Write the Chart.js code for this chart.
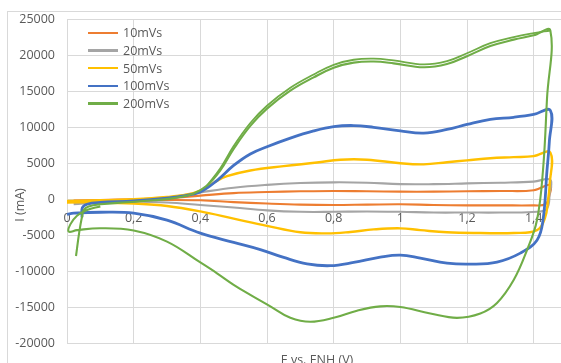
<!DOCTYPE html>
<html>
<head>
<meta charset="utf-8">
<script src="https://cdn.jsdelivr.net/npm/chart.js@4.4.1/dist/chart.umd.min.js"></script>
<style>
  html, body { margin: 0; padding: 0; background: #fff; overflow: hidden; }
  #wrap   { position: relative; width: 561px; height: 363px; }
  #frame  { position: absolute; left: 7px; top: 11px; width: 620px; height: 420px; border: 1px solid #d9d9d9; }
  #cv     { position: absolute; left: 0; top: 0; }
  #legend { position: absolute; left: 88px; top: 24px; font: 12.5px "Open Sans", sans-serif; color: #595959; }
  .leg-item { height: 17.7px; display: flex; align-items: center; }
  .leg-line { width: 30px; height: 2.5px; margin-right: 5px; }
</style>
</head>
<body>
<div id="wrap">
  <div id="frame"></div>
  <canvas id="cv" width="561" height="363"></canvas>
  <div id="legend"></div>
</div>
<script>
"use strict";

// ── Data (E in V, I in mA) ──
const SERIES  = ["10mVs", "20mVs", "50mVs", "100mVs", "200mVs"];
const COLORS  = ["#ED7D31", "#A5A5A5", "#FFC000", "#4472C4", "#70AD47"];
const X_TICKS = [0, 0.2, 0.4, 0.6, 0.8, 1, 1.2, 1.4];
const Y_TICKS = [-20000, -15000, -10000, -5000, 0, 5000, 10000, 15000, 20000, 25000];
const X_TITLE = "E vs. ENH (V)";
const Y_TITLE = "I (mA)";

const E_10 = [0.02, 0.1, 0.2, 0.3, 0.4, 0.5, 0.6, 0.7, 0.8, 0.9, 1.0, 1.1, 1.2, 1.3, 1.4, 1.45,
              1.447, 1.435, 1.4, 1.3, 1.2, 1.1, 1.0, 0.9, 0.8, 0.7, 0.6, 0.5, 0.4, 0.3, 0.2, 0.1, 0.02];
const I_10 = [-200, -100, 0, 150, 500, 850, 1000, 1100, 1150, 1100, 1050, 1050, 1100, 1150, 1250, 2000,
              500, -700, -850, -850, -850, -800, -700, -750, -800, -750, -600, -400, -150, -100, -150, -250, -400];

const E_20 = [0.02, 0.1, 0.2, 0.3, 0.4, 0.5, 0.6, 0.7, 0.8, 0.9, 1.0, 1.1, 1.2, 1.3, 1.4, 1.45,
              1.448, 1.44, 1.41, 1.3, 1.2, 1.1, 1.0, 0.9, 0.8, 0.7, 0.6, 0.5, 0.4, 0.3, 0.2, 0.1, 0.02];
const I_20 = [-600, -350, -100, 250, 950, 1600, 2000, 2250, 2350, 2300, 2100, 2100, 2200, 2300, 2450, 2700,
              800, -1300, -1750, -1850, -1850, -1850, -1750, -1700, -1750, -1750, -1550, -1150, -800, -450, -350, -450, -700];

const E_50 = [0.0, 0.1, 0.2, 0.3, 0.36, 0.4, 0.44, 0.48, 0.55, 0.65, 0.75, 0.82, 0.9, 1.0, 1.07, 1.14, 1.2, 1.27, 1.34, 1.4, 1.45,
              1.448, 1.443, 1.434, 1.41, 1.34, 1.24, 1.14, 1.06, 1.0, 0.92, 0.85, 0.78, 0.7, 0.6, 0.5, 0.4, 0.3, 0.2, 0.1, 0.0];
const I_50 = [-250, -150, 0, 300, 650, 1200, 2300, 3200, 4000, 4600, 5100, 5500, 5500, 5000, 4850, 5150, 5400, 5700, 5850, 6000, 6500,
              2000, -200, -2600, -4300, -4700, -4700, -4600, -4300, -4050, -4200, -4550, -4750, -4600, -3700, -2700, -1700, -950, -600, -450, -450];

const E_100 = [0.045, 0.046, 0.06, 0.1, 0.2, 0.3, 0.36, 0.4, 0.45, 0.5, 0.55, 0.6, 0.67, 0.74, 0.8, 0.86, 0.92, 1.0, 1.07, 1.14, 1.2, 1.27, 1.34, 1.4, 1.45,
               1.447, 1.44, 1.428, 1.41, 1.36, 1.29, 1.21, 1.14, 1.06, 1.0, 0.94, 0.86, 0.79, 0.72, 0.65, 0.58, 0.5, 0.4, 0.3, 0.2, 0.1, 0.02, 0.0];
const I_100 = [-2500, -1200, -700, -450, -250, 150, 550, 1000, 2600, 4700, 6300, 7300, 8500, 9500, 10100, 10250, 10000, 9500, 9200, 9700, 10400, 11100, 11400, 11800, 12360,
               8000, 4000, -2900, -5700, -7500, -8750, -9030, -8890, -8190, -7780, -8060, -8800, -9250, -9000, -8100, -7000, -6000, -4720, -2920, -1940, -1810, -1940, -2100];

const E_200 = [0.027, 0.037, 0.046, 0.05, 0.065, 0.1, 0.18, 0.26, 0.32, 0.38, 0.42, 0.46, 0.5, 0.55, 0.6, 0.67, 0.74, 0.8, 0.86, 0.92, 0.98, 1.07, 1.14, 1.2, 1.27, 1.34, 1.4, 1.45,
               1.44, 1.428, 1.41, 1.38, 1.34, 1.29, 1.24, 1.17, 1.09, 1.0, 0.94, 0.87, 0.8, 0.73, 0.67, 0.61, 0.55, 0.5, 0.45, 0.4, 0.3, 0.2, 0.1, 0.03, 0.005,
               0.01, 0.03, 0.06, 0.1];
const I_200 = [-7900, -4500, -2200, -1500, -1000, -700, -420, -150, 150, 800, 1900, 4000, 7000, 10200, 12600, 15100, 16950, 18300, 19000, 19150, 18900, 18350, 18800, 19900, 21300, 22200, 22800, 23470,
               14000, 4030, -2900, -7080, -11250, -14440, -15900, -16500, -15900, -15000, -14900, -15500, -16500, -17050, -16500, -14900, -13300, -11900, -10300, -8800, -5900, -4350, -4030, -4300, -4500,
               -3500, -2300, -1500, -1000];

// second, slightly offset anodic sweep of the 200 mV/s run (drawn as a twin line)
const E_200B = [0.42, 0.46, 0.5, 0.55, 0.6, 0.67, 0.74, 0.8, 0.86, 0.92, 0.98, 1.07, 1.14, 1.2, 1.27, 1.34, 1.4, 1.45];
const I_200B = [1900, 4300, 7400, 10600, 13000, 15500, 17350, 18700, 19400, 19550, 19300, 18750, 19200, 20300, 21700, 22550, 23100, 23470];

const E_ALL = [E_10, E_20, E_50, E_100, E_200];
const I_ALL = [I_10, I_20, I_50, I_100, I_200];

// ── Helpers ──
const FONT = { family: "'Open Sans', sans-serif", size: 12.5 };
const TXT  = "#595959";
const GRID = "#d9d9d9";
const fmtE = (v) => Number.isInteger(v) ? String(v) : v.toFixed(1).replace(".", ",");
const pts  = (xs, ys) => xs.map((e, j) => ({ x: e, y: ys[j] }));

function el(id) { return document.getElementById(id); }

// ── Axis titles (Excel puts them outside the plot) ──
const axisTitles = {
  id: "axisTitles",
  afterDraw(chart) {
    const { ctx, chartArea } = chart;
    ctx.save();
    ctx.fillStyle = TXT;
    ctx.font = `${FONT.size}px ${FONT.family}`;
    ctx.textAlign = "center";
    ctx.textBaseline = "middle";
    ctx.fillText(X_TITLE, (chartArea.left + chartArea.right) / 2 + 3, chart.height - 3);
    ctx.translate(20, 205);
    ctx.rotate(-Math.PI / 2);
    ctx.fillText(Y_TITLE, 0, 0);
    ctx.restore();
  },
};

const lineStyle = (k) => ({
  showLine: true,
  borderColor: COLORS[k],
  backgroundColor: COLORS[k],
  borderWidth: k === 3 ? 2.8 : (k === 2 ? 2.4 : 2.1),
  pointRadius: 0,
  tension: 0.4,
  order: SERIES.length - 1 - k,
});

const datasets = SERIES.map((name, k) => ({ label: name, data: pts(E_ALL[k], I_ALL[k]), ...lineStyle(k) }));
datasets.push({ label: SERIES[4] + " (2)", data: pts(E_200B, I_200B), ...lineStyle(4), borderWidth: 1.8 });

const chart = new Chart(el("cv").getContext("2d"), {
  type: "scatter",
  data: { datasets },
  options: {
    responsive: false,
    animation: false,
    layout: { padding: { left: 8, top: 19, right: 0, bottom: 20 } },
    plugins: { legend: { display: false }, tooltip: { enabled: false } },
    scales: {
      x: {
        type: "linear",
        min: 0,
        max: 1.482,
        position: { y: 0 },
        afterBuildTicks: (s) => { s.ticks = X_TICKS.map((v) => ({ value: v })); },
        afterFit: (s) => { s.height = 0; },
        grid: { color: GRID, drawTicks: false },
        border: { display: false },
        ticks: { autoSkip: false, maxRotation: 0, padding: 12, color: TXT, font: FONT, callback: (v) => fmtE(v) },
      },
      y: {
        type: "linear",
        min: -20000,
        max: 25000,
        afterBuildTicks: (s) => { s.ticks = Y_TICKS.map((v) => ({ value: v })); },
        afterFit: (s) => { s.width = 59; },
        grid: { color: GRID, drawTicks: false },
        border: { display: false },
        ticks: { padding: 12, color: TXT, font: FONT, callback: (v) => String(v) },
      },
    },
  },
  plugins: [axisTitles],
});

// ── HTML legend (main series only) ──
el("legend").innerHTML = SERIES.map((name, k) =>
  `<div class="leg-item"><span class="leg-line" style="background:${COLORS[k]}"></span>${name}</div>`
).join("");
</script>
</body>
</html>
